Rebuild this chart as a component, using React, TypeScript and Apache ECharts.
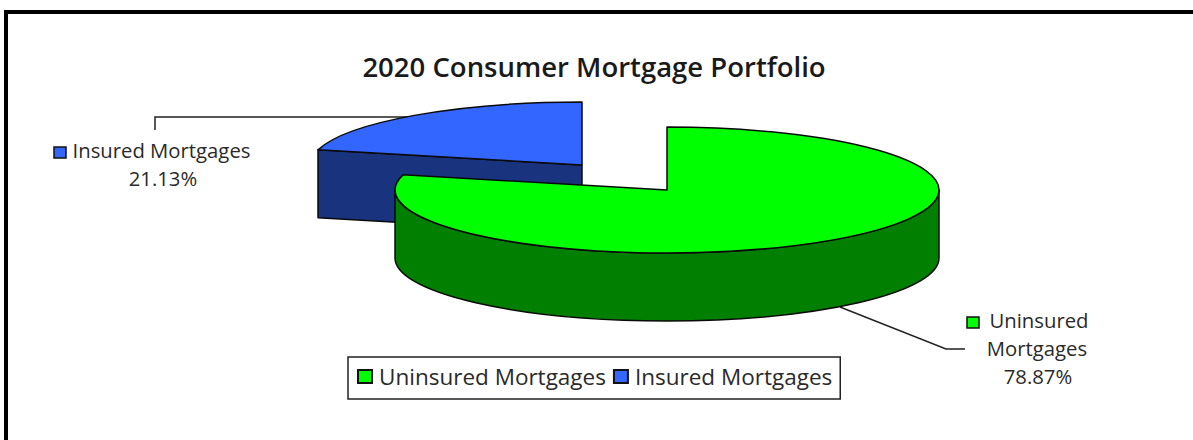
import React, { useEffect, useRef } from "react";
import * as echarts from "echarts";

const titleText = "2020 Consumer Mortgage Portfolio";
const categories = ["Uninsured Mortgages", "Insured Mortgages"];
const shares = [78.87, 21.13];
const topColors = ["#00ff00", "#3366ff"];
const sideColors = ["#007f00", "#1a337f"];
const centers = [[667, 190], [582, 165]];
const RX = 272, RY = 63, DEPTH = 68;
const FONT = "'Open Sans', sans-serif";

const pt = (c: number[], deg: number, dy = 0) => {
  const a = (deg * Math.PI) / 180;
  return [c[0] + RX * Math.sin(a), c[1] - RY * Math.cos(a) + dy];
};
const arc = (p: number[], large: boolean) =>
  `A ${RX} ${RY} 0 ${large ? 1 : 0} 1 ${p[0]} ${p[1]}`;

function sliceChildren(index: number) {
  const start = (shares.slice(0, index).reduce((s, v) => s + v, 0) / 100) * 360;
  const end = start + (shares[index] / 100) * 360;
  const c = centers[index];
  const line = { stroke: "#0a0a0a", lineWidth: 1.5, lineJoin: "round" };
  const children: any[] = [];
  const wallFrom = Math.max(start, 90);
  const wallTo = Math.min(end, 270);
  if (wallTo > wallFrom) {
    const a = pt(c, wallFrom), b = pt(c, wallTo), bd = pt(c, wallTo, DEPTH), ad = pt(c, wallFrom, DEPTH);
    children.push({
      type: "path",
      shape: { pathData: `M ${a[0]} ${a[1]} ${arc(b, wallTo - wallFrom > 180)} L ${bd[0]} ${bd[1]} A ${RX} ${RY} 0 0 0 ${ad[0]} ${ad[1]} Z` },
      style: { fill: sideColors[index], ...line },
    });
  }
  if (start >= 180 && start < 360) {
    const p = pt(c, start), pd = pt(c, start, DEPTH);
    children.push({
      type: "polygon",
      shape: { points: [c, p, pd, [c[0], c[1] + DEPTH]] },
      style: { fill: sideColors[index], ...line },
    });
  }
  const s = pt(c, start), e = pt(c, end);
  children.push({
    type: "path",
    shape: { pathData: `M ${c[0]} ${c[1]} L ${s[0]} ${s[1]} ${arc(e, end - start > 180)} Z` },
    style: { fill: topColors[index], ...line },
  });
  return { type: "group", children };
}

const calloutText = (text: string, x: number, y: number, size = 20.3) => ({
  type: "text",
  z: 10,
  style: { text, x, y, fill: "#2a2a2a", font: `${size}px ${FONT}`, align: "center", verticalAlign: "middle" },
});
const keyRect = (x: number, y: number, fill: string) => ({
  type: "rect",
  z: 10,
  shape: { x, y, width: 12, height: 11 },
  style: { fill, stroke: "#111", lineWidth: 1.5 },
});
const leader = (points: number[][]) => ({
  type: "polyline",
  z: 1,
  shape: { points },
  style: { stroke: "#222", lineWidth: 1.5, fill: "none" },
});

export default function App() {
  const ref = useRef<HTMLDivElement>(null);
  useEffect(() => {
    document.body.style.margin = "0";
    const chart = echarts.init(ref.current!, undefined, { renderer: "svg" });
    chart.setOption({
      animation: false,
      backgroundColor: "#ffffff",
      title: {
        text: titleText,
        left: 589,
        top: 47,
        textAlign: "center",
        textStyle: { fontFamily: FONT, fontSize: 27.5, fontWeight: 600, color: "#1a1a1a" },
      },
      legend: {
        data: categories,
        left: 348,
        top: 357,
        padding: [8, 8, 11, 9],
        itemWidth: 14,
        itemHeight: 13,
        itemGap: 7,
        borderColor: "#222",
        borderWidth: 1.5,
        selectedMode: false,
        icon: "rect",
        textStyle: { fontFamily: FONT, fontSize: 22.5, color: "#2a2a2a", padding: [0, 0, 0, 2] },
      },
      graphic: [
        { type: "rect", z: 20, shape: { x: 4, y: 10, width: 1189, height: 4 }, style: { fill: "#000" } },
        { type: "rect", z: 20, shape: { x: 4, y: 10, width: 4, height: 430 }, style: { fill: "#000" } },
        leader([[155, 130], [155, 117], [420, 117]]),
        leader([[840, 307], [946, 349], [965, 349]]),
        keyRect(54, 147, topColors[1]),
        keyRect(967, 317, topColors[0]),
        calloutText(categories[1], 161.5, 150),
        calloutText(`${shares[1].toFixed(2)}%`, 163, 178),
        calloutText("Uninsured", 1039, 320),
        calloutText("Mortgages", 1037, 348),
        calloutText(`${shares[0].toFixed(2)}%`, 1038, 376),
      ],
      series: [1, 0].map((i) => ({
        type: "custom",
        name: categories[i],
        coordinateSystem: "none",
        z: i === 1 ? 3 : 4,
        silent: true,
        itemStyle: { color: topColors[i], borderColor: "#111", borderWidth: 1.5 },
        data: [shares[i]],
        renderItem: () => sliceChildren(i),
      })),
    });
    return () => chart.dispose();
  }, []);
  return <div ref={ref} style={{ position: "absolute", left: 0, top: 0, width: 1193, height: 440 }} />;
}
